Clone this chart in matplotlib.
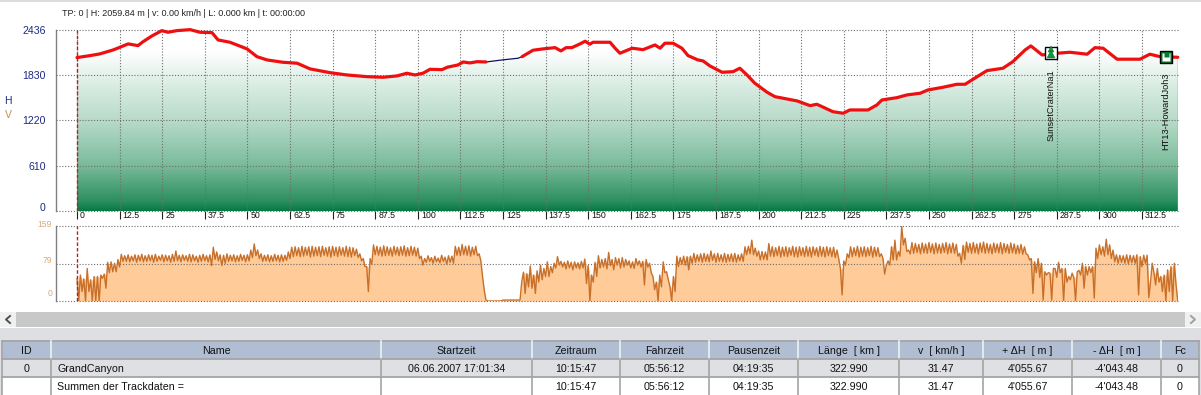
import numpy as np
import matplotlib
matplotlib.use("Agg")
import matplotlib.pyplot as plt
from matplotlib.colors import LinearSegmentedColormap
from matplotlib.patches import Rectangle, Polygon
from matplotlib.transforms import ScaledTranslation

plt.rcParams['font.family'] = ['Liberation Sans', 'DejaVu Sans']

# ---------- data ----------
km = [0, 3.8, 6.7, 10.6, 12.6, 15, 17.9, 19.4, 22, 24.9, 26.7, 29.3, 33.2, 36.1, 39.6, 41.4, 44.9, 49.9, 52.8, 55.8,
      60.4, 64.6, 68.4, 74.2, 79.2, 85.1, 89.8, 93.9, 96.8, 99.2, 101.5, 103.6, 107.1, 108.6, 111.8, 113.3, 115.3,
      117.4, 120, 124.7, 129.4, 130.6, 133.8, 136.7, 140.3, 142, 143.5, 145.2, 147.6, 149.1, 150.5, 151.4, 156.4,
      157.9, 159.3, 162.9, 166.1, 169.6, 171.1, 172.5, 174.9, 177.5, 179.3, 182.2, 183.7, 185.7, 189.3, 192.5, 194.5,
      196.6, 198.9, 202.5, 204.8, 211.3, 215.1, 217.1, 221.8, 224.8, 226.8, 232.1, 234.7, 236.2, 240.6, 243.5, 247.4,
      249.7, 254.1, 258.2, 260.6, 262.9, 267, 271.7, 274.6, 278.2, 279.9, 283.2, 287.6, 291.4, 296.4, 298.7, 301.1,
      305.2, 311.9, 314.8, 317.8, 323]
height = [2060, 2086, 2109, 2162, 2198, 2243, 2220, 2273, 2350, 2421, 2399, 2421, 2434, 2399, 2394, 2296, 2265, 2176,
          2072, 2028, 1997, 1984, 1908, 1858, 1827, 1804, 1796, 1814, 1850, 1827, 1850, 1903, 1898, 1930, 1961, 2001,
          1988, 2005, 2001, 2028, 2051, 2072, 2158, 2176, 2193, 2149, 2193, 2193, 2243, 2279, 2239, 2265, 2265, 2185,
          2118, 2185, 2166, 2229, 2185, 2252, 2252, 2185, 2086, 2028, 2015, 1948, 1863, 1871, 1917, 1827, 1716, 1595,
          1536, 1479, 1416, 1434, 1335, 1314, 1358, 1358, 1425, 1492, 1523, 1559, 1582, 1626, 1662, 1702, 1702, 1769,
          1885, 1917, 2005, 2162, 2216, 2095, 2118, 2131, 2105, 2193, 2185, 2038, 2038, 2105, 2072, 2064]
pause_start, pause_end = 120, 130.6

# speed, every 0.5 km (peak, trough per km)
speed = [
    47, 0, 55, 20, 47, 0, 69, 20, 45, 0, 52, 0, 52, 0, 55, 48, 57, 27, 82, 60,
    83, 62, 80, 62, 88, 72, 99, 84, 96, 84, 98, 83, 95, 85, 98, 82, 97, 85, 99, 83,
    96, 84, 98, 85, 97, 82, 99, 84, 95, 86, 98, 83, 97, 85, 96, 82, 99, 84, 106, 85,
    97, 83, 98, 86, 96, 84, 99, 83, 98, 85, 95, 82, 97, 84, 99, 85, 96, 83, 98, 75,
    114, 88, 104, 85, 98, 75, 97, 80, 100, 84, 97, 85, 98, 83, 96, 84, 99, 86, 97, 83,
    98, 85, 108, 92, 121, 96, 108, 90, 100, 84, 97, 85, 98, 83, 96, 84, 99, 85, 97, 83,
    98, 84, 97, 86, 104, 90, 114, 94, 115, 96, 113, 94, 116, 95, 114, 97, 115, 93, 116, 95,
    114, 96, 115, 94, 116, 97, 113, 95, 115, 93, 116, 96, 114, 94, 115, 97, 113, 95, 116, 94,
    114, 93, 113, 96, 110, 92, 100, 85, 90, 73, 73, 20, 90, 78, 119, 98, 116, 97, 114, 95,
    117, 96, 115, 97, 113, 95, 116, 98, 114, 96, 115, 97, 117, 95, 113, 96, 116, 97, 114, 95,
    112, 90, 95, 76, 90, 82, 96, 84, 92, 80, 95, 83, 91, 81, 97, 84, 93, 78, 96, 82,
    95, 80, 116, 97, 114, 96, 120, 98, 116, 97, 117, 95, 114, 98, 116, 96, 100, 85, 52, 23,
    2, 0, 0, 0, 0, 0, 0, 0, 0, 0, 2, 2, 2, 2, 2, 2, 2, 2, 2, 2,
    2, 41, 61, 16, 58, 30, 74, 27, 55, 16, 64, 40, 76, 45, 69, 52, 83, 52, 73, 60,
    80, 70, 94, 76, 84, 72, 82, 68, 85, 70, 82, 66, 83, 70, 81, 68, 84, 70, 89, 37,
    75, 0, 55, 40, 82, 52, 96, 70, 88, 72, 90, 68, 103, 75, 88, 66, 92, 76, 90, 70,
    92, 72, 88, 76, 85, 70, 83, 69, 90, 76, 85, 72, 84, 34, 88, 72, 80, 60, 52, 24,
    40, 0, 55, 30, 83, 60, 62, 45, 30, 0, 52, 20, 95, 73, 92, 78, 95, 76, 94, 66,
    95, 80, 101, 82, 98, 84, 100, 82, 101, 84, 99, 83, 106, 86, 100, 82, 101, 84, 98, 83,
    101, 82, 99, 84, 100, 83, 101, 82, 98, 85, 100, 84, 115, 98, 116, 100, 129, 98, 112, 95,
    106, 87, 105, 88, 104, 87, 122, 95, 115, 94, 113, 96, 116, 93, 114, 95, 115, 94, 113, 97,
    116, 94, 114, 93, 115, 96, 113, 94, 116, 95, 114, 93, 115, 97, 113, 94, 116, 95, 114, 93,
    115, 96, 113, 94, 114, 92, 108, 90, 69, 13, 85, 76, 100, 92, 115, 94, 113, 96, 116, 93,
    114, 95, 115, 94, 113, 96, 116, 93, 114, 95, 113, 94, 100, 90, 57, 76, 85, 76, 115, 87,
    129, 87, 105, 95, 158, 119, 133, 105, 108, 100, 124, 101, 122, 103, 120, 100, 123, 102, 121, 101,
    124, 103, 121, 100, 123, 102, 120, 101, 122, 103, 124, 100, 121, 102, 123, 101, 120, 95, 101, 80,
    118, 88, 125, 103, 122, 101, 124, 102, 121, 100, 123, 103, 125, 101, 122, 102, 120, 100, 123, 103,
    121, 102, 124, 100, 122, 103, 120, 101, 123, 102, 121, 100, 118, 101, 120, 99, 115, 100, 98, 87,
    90, 16, 83, 60, 90, 50, 80, 2, 62, 55, 60, 59, 2, 69, 69, 50, 82, 60, 69, 0,
    69, 40, 52, 45, 59, 50, 0, 62, 65, 55, 80, 27, 73, 55, 73, 60, 73, 6, 112, 90,
    119, 98, 115, 95, 131, 98, 119, 90, 108, 83, 98, 80, 97, 82, 96, 80, 98, 79, 97, 81,
    96, 80, 98, 13, 94, 73, 97, 80, 97, 7, 40, 80, 60, 34, 69, 40, 52, 20, 55, 0,
    66, 20, 73, 0, 80, 34, 0,
]
speed_step_km = 0.5

x_ticks = [0, 12.5, 25, 37.5, 50, 62.5, 75, 87.5, 100, 112.5, 125, 137.5, 150, 162.5, 175, 187.5, 200, 212.5,
           225, 237.5, 250, 262.5, 275, 287.5, 300, 312.5]
x_tick_labels = ['0', '12.5', '25', '37.5', '50', '62.5', '75', '87.5', '100', '112.5', '125', '137.5', '150',
                 '162.5', '175', '187.5', '200', '212.5', '225', '237.5', '250', '262.5', '275', '287.5', '300',
                 '312.5']
h_ticks = [0, 610, 1220, 1830, 2436]
v_ticks = [0, 79, 159]

waypoint_km = [285.8, 319.5]
waypoint_h = [2122, 2068]
waypoint_names = ['SunsetCraterNa1', 'HT13-HowardJoh3']

status = 'TP: 0 | H: 2059.84 m | v: 0.00 km/h | L: 0.000 km | t: 00:00:00'
headers = ['ID', 'Name', 'Startzeit', 'Zeitraum', 'Fahrzeit', 'Pausenzeit', 'Länge  [ km ]', 'v  [ km/h ]',
           '+ ΔH  [ m ]', '- ΔH  [ m ]', 'Fc']
row_track = ['0', 'GrandCanyon', '06.06.2007 17:01:34', '10:15:47', '05:56:12', '04:19:35', '322.990', '31.47',
             "4'055.67", "-4'043.48", '0']
row_sum = ['', 'Summen der Trackdaten =', '', '10:15:47', '05:56:12', '04:19:35', '322.990', '31.47',
           "4'055.67", "-4'043.48", '0']
col_edges = [2, 51, 381, 532, 620, 709, 798, 899, 983, 1072, 1161, 1199]

# ---------- layout helpers ----------
W, H = 1201, 395
fig = plt.figure(figsize=(W / 100, H / 100), dpi=100, facecolor='white')


def axes_px(x0, y0, x1, y1, **kw):
    return fig.add_axes([x0 / W, 1 - y1 / H, (x1 - x0) / W, (y1 - y0) / H], **kw)


def shift_up(label, px):
    label.set_transform(label.get_transform() + ScaledTranslation(0, px / 100, fig.dpi_scale_trans))


PX_PER_KM = 3.408
X0 = 77
LEFT, RIGHT = 55.5, 1178
xlim = ((LEFT - X0) / PX_PER_KM, (RIGHT - X0) / PX_PER_KM)
GRID = dict(color='#6e6e6e', lw=0.8, ls=(0, (1, 1.6)))

# ---------- UI background ----------
ui = axes_px(0, 0, W, H, zorder=0)
ui.set_xlim(0, W)
ui.set_ylim(H, 0)
ui.axis('off')
ui.add_patch(Rectangle((0, 0), W, 1.5, fc='#dcdcdc', ec='none'))
ui.add_patch(Rectangle((16, 312), 1169, 15, fc='#c8c8c8', ec='none'))
ui.add_patch(Rectangle((0, 312), 16, 15, fc='#f0f0f0', ec='none'))
ui.add_patch(Rectangle((1185, 312), 16, 15, fc='#f0f0f0', ec='none'))
ui.plot([10, 6, 10], [316, 319.5, 323], color='#505050', lw=1.4)
ui.plot([1191, 1195, 1191], [316, 319.5, 323], color='#a0a0a0', lw=1.4)
ui.add_patch(Rectangle((0, 328), W, H - 328, fc='#dedfe3', ec='none'))

# table
y_lines = [341, 359, 377, 395]
fills = ['#b0bdd2', '#dfe0e4', 'white']
rows = [headers, row_track, row_sum]
for r, row in enumerate(rows):
    ui.add_patch(Rectangle((2, y_lines[r]), 1197, y_lines[r + 1] - y_lines[r], fc=fills[r], ec='none'))
    yc = (y_lines[r] + y_lines[r + 1]) / 2 + 0.5
    for c, txt in enumerate(row):
        if c == 1 and r > 0:
            ui.text(57, yc, txt, ha='left', va='center', fontsize=7.7, color='#111111')
        else:
            ui.text((col_edges[c] + col_edges[c + 1]) / 2, yc, txt, ha='center', va='center', fontsize=7.7,
                    color='#111111')
for y in y_lines[:3]:
    ui.plot([2, 1199], [y, y], color='#a4a4a4', lw=1.3)
for x in col_edges:
    ui.plot([x, x], [341, 359], color='#eef0f4' if 2 < x < 1199 else '#a4a4a4', lw=1.2)
    ui.plot([x, x], [359, 395], color='#a4a4a4', lw=1.2)

ui.text(62, 13, status, ha='left', va='center', fontsize=6.45, color='#222222')
ui.text(8, 101, 'H', ha='center', va='center', fontsize=7.5, color='#1c2a80')
ui.text(8, 115, 'V', ha='center', va='center', fontsize=7.5, color='#c98a50')

# ---------- elevation chart ----------
ax = axes_px(LEFT, 29.5, RIGHT, 211.3, zorder=2)
ax.patch.set_alpha(0)
km_a = np.array(km, float)
h_a = np.array(height, float)
cmap = LinearSegmentedColormap.from_list('ele', [
    (0.0, '#067a43'), (0.05, '#2a8f5e'), (0.25, '#7abb9b'), (0.5, '#b8dbc9'), (0.75, '#e4f2eb'), (0.88, '#ffffff'),
    (1.0, '#ffffff')])
grad = np.linspace(1, 0, 256).reshape(-1, 1)
im = ax.imshow(grad, cmap=cmap, vmin=0, vmax=1, extent=[km_a[0], km_a[-1], 0, 2436], aspect='auto', zorder=1)
poly = Polygon(np.column_stack([np.r_[km_a[0], km_a, km_a[-1]], np.r_[0, h_a, 0]]), transform=ax.transData,
               fc='none', ec='none')
ax.add_patch(poly)
im.set_clip_path(poly)
ax.set_xlim(*xlim)
ax.set_ylim(0, 2436)

ax.set_yticks(h_ticks)
ax.set_yticklabels([str(t) for t in h_ticks], fontsize=7.6, color='#1c2a80')
ax.tick_params(axis='y', length=0, pad=7)
shift_up(ax.get_yticklabels()[0], 4.5)
ax.set_xticks(x_ticks)
ax.set_xticklabels(x_tick_labels, fontsize=6.3, color='#111111', ha='left')
ax.tick_params(axis='x', length=6, width=0.8, color='#222222', pad=-6)
offset = ScaledTranslation(3 / 100, 0, fig.dpi_scale_trans)
for lab in ax.get_xticklabels():
    lab.set_transform(lab.get_transform() + offset)
ax.set_axisbelow(False)
ax.grid(True, axis='both', zorder=3, **GRID)
for s in ('top', 'right', 'bottom'):
    ax.spines[s].set_visible(False)
ax.spines['left'].set_color('#808080')
ax.spines['left'].set_linewidth(1)
ax.axvline(0, color='#b82020', lw=1, ls=(0, (2.5, 1.5)), zorder=4)
ax.plot([km_a[-1], km_a[-1]], [h_a[-1], 0], color='#101060', lw=0.9, zorder=4)
ax.plot(km_a, h_a, color='#101060', lw=0.9, zorder=5)
h_red = np.ma.masked_where((km_a > pause_start) & (km_a < pause_end), h_a)
ax.plot(km_a, h_red, color='#ee1010', lw=2.3, zorder=6, solid_capstyle='round', solid_joinstyle='round',
        clip_on=False)

# waypoints
ax.plot(waypoint_km[0], waypoint_h[0], 's', ms=9, mfc='white', mec='black', mew=1, zorder=7)
ax.plot(waypoint_km[0], waypoint_h[0] + 50, '^', ms=4.5, mfc='#0a9a3a', mec='#087030', mew=0.3, zorder=8)
ax.plot(waypoint_km[0], waypoint_h[0] - 20, '^', ms=5.5, mfc='#0a9a3a', mec='#087030', mew=0.3, zorder=8)
ax.plot(waypoint_km[1], waypoint_h[1], 's', ms=9, mfc='#0a7a30', mec='black', mew=1, zorder=7)
ax.plot(waypoint_km[1], waypoint_h[1], 's', ms=5.5, mfc='white', mec='none', zorder=8)
ax.plot(waypoint_km[1], waypoint_h[1] + 35, 's', ms=3.6, mfc='#0a7a30', mec='none', zorder=9)
for xk, yk, name, gap in zip(waypoint_km, waypoint_h, waypoint_names, [12, 11.5]):
    ax.annotate(name, (xk, yk), xytext=(0, -gap), textcoords='offset points',
                rotation=90, ha='center', va='top', fontsize=6.65, color='#111111', zorder=9)

# ---------- speed chart ----------
ax2 = axes_px(LEFT, 226, RIGHT, 301, zorder=2)
ax2.patch.set_alpha(0)
sp = np.array(speed, float)
xs = np.arange(len(sp)) * speed_step_km
# deep one-sample dips show as dark lines over the fill, as in the original
neighbour = np.minimum(np.r_[sp[0], sp[:-1]], np.r_[sp[1:], sp[-1]])
fill_top = np.where(neighbour - sp > 25, neighbour, sp)
ax2.fill_between(xs, 0, fill_top, color='#ffcb98', lw=0, zorder=1)
ax2.plot(xs, sp, color='#c8702a', lw=1.0, zorder=3)
ax2.set_xlim(*xlim)
ax2.set_ylim(0, 159)
ax2.set_xticks([])
ax2.set_yticks(v_ticks)
ax2.set_yticklabels([str(t) for t in v_ticks], fontsize=6.2, color='#d8a878')
ax2.tick_params(axis='y', length=0, pad=2.5)
for lab, up in zip(ax2.get_yticklabels(), [9, 4.5, 2]):
    shift_up(lab, up)
ax2.grid(True, axis='y', zorder=2, **GRID)
ax2.set_axisbelow(False)
for s in ('top', 'right', 'bottom'):
    ax2.spines[s].set_visible(False)
ax2.spines['left'].set_color('#808080')
ax2.spines['left'].set_linewidth(1)
ax2.axvline(0, color='#b82020', lw=1, ls=(0, (2.5, 1.5)), zorder=4)
for a in (ax, ax2):
    for ln in a.get_ygridlines():
        ln.set_clip_on(False)

fig.savefig('out.png', dpi=100)
